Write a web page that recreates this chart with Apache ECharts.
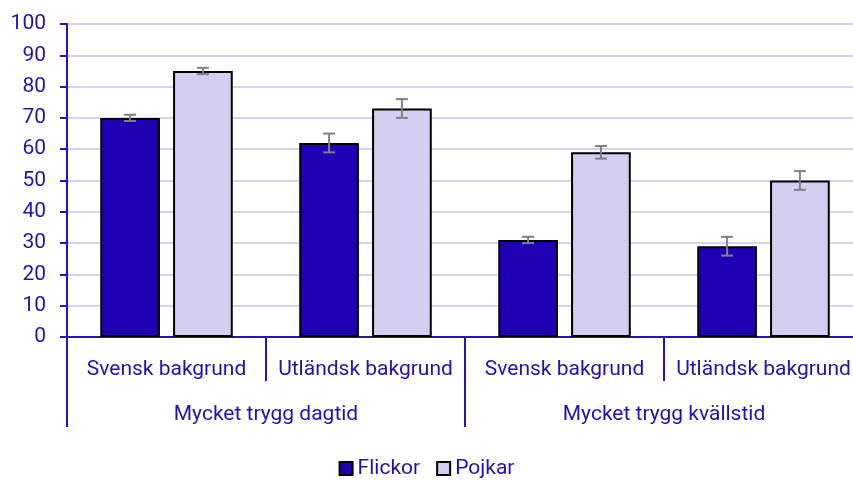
<!DOCTYPE html>
<html>
<head>
<meta charset="utf-8">
<script src="https://cdn.jsdelivr.net/npm/echarts@6/dist/echarts.min.js"></script>
<style>html,body{margin:0;padding:0;background:#fff}#chart{width:853px;height:480px}</style>
</head>
<body>
<div id="chart"></div>
<script>
var subCats = ['Svensk bakgrund', 'Utländsk bakgrund', 'Svensk bakgrund', 'Utländsk bakgrund'];
var mainCats = ['Mycket trygg dagtid', 'Mycket trygg kvällstid'];
var flickor = [70, 62, 31, 29];
var pojkar = [85, 73, 59, 50];
var flickorLow = [69, 59, 30, 26];
var flickorHigh = [71, 65, 32, 32];
var pojkarLow = [84, 70, 57, 47];
var pojkarHigh = [86, 76, 61, 53];

var textCol = '#2311b0';
var axisCol = '#2a10c4';

function errData(low, high) {
  var out = [];
  for (var i = 0; i < low.length; i++) out.push([i, low[i], high[i]]);
  return out;
}

// bar width 30% of band, gap 22% of bar -> centre offset in band units
var barW = 0.30, gap = 0.22;
var off = (barW + barW * gap) / 2;

function errRender(sign) {
  return function (params, api) {
    var band = api.size([1, 0])[0];
    var x = api.coord([api.value(0), 0])[0] + sign * off * band;
    var lo = api.coord([api.value(0), api.value(1)])[1];
    var hi = api.coord([api.value(0), api.value(2)])[1];
    var cap = 6;
    var st = { stroke: '#808080', lineWidth: 2 };
    return {
      type: 'group',
      children: [
        { type: 'line', shape: { x1: x, y1: lo, x2: x, y2: hi }, style: st },
        { type: 'line', shape: { x1: x - cap, y1: lo, x2: x + cap, y2: lo }, style: st },
        { type: 'line', shape: { x1: x - cap, y1: hi, x2: x + cap, y2: hi }, style: st }
      ]
    };
  };
}

var chart = echarts.init(document.getElementById('chart'));
chart.setOption({
  animation: false,
  textStyle: { fontFamily: 'Roboto' },
  grid: { left: 67, width: 796, top: 24, bottom: 143, containLabel: false, outerBoundsMode: 'none' },
  legend: {
    bottom: -4,
    left: 'center',
    icon: 'rect',
    itemWidth: 13,
    itemHeight: 13,
    itemGap: 16,
    textStyle: { color: textCol, fontSize: 21 },
    data: ['Flickor', 'Pojkar']
  },
  xAxis: [
    {
      type: 'category',
      position: 'bottom',
      data: subCats,
      axisLine: { lineStyle: { color: axisCol, width: 2 } },
      axisTick: { show: true, interval: 0, length: 44, lineStyle: { color: axisCol, width: 2 } },
      axisLabel: { color: textCol, fontSize: 21, margin: 22, interval: 0 }
    },
    {
      type: 'category',
      position: 'bottom',
      offset: 0,
      data: mainCats,
      axisLine: { show: false },
      axisTick: { show: true, interval: 0, length: 90, lineStyle: { color: axisCol, width: 2 } },
      axisLabel: { color: textCol, fontSize: 21, margin: 67, interval: 0 }
    }
  ],
  yAxis: {
    type: 'value',
    min: 0,
    max: 100,
    interval: 10,
    axisLine: { show: true, lineStyle: { color: axisCol, width: 2 } },
    axisTick: { show: true, length: 7, lineStyle: { color: axisCol, width: 2 } },
    axisLabel: { color: textCol, fontSize: 21, margin: 21 },
    splitLine: { lineStyle: { color: '#d5d2ef', width: 2 } }
  },
  series: [
    {
      name: 'Flickor',
      type: 'bar',
      data: flickor,
      barWidth: (barW * 100) + '%',
      barGap: (gap * 100) + '%',
      itemStyle: { color: '#2000b5', borderColor: '#000', borderWidth: 2 }
    },
    {
      name: 'Pojkar',
      type: 'bar',
      data: pojkar,
      barWidth: (barW * 100) + '%',
      barGap: (gap * 100) + '%',
      itemStyle: { color: '#d3cef0', borderColor: '#000', borderWidth: 2 }
    },
    {
      type: 'custom',
      renderItem: errRender(-1),
      data: errData(flickorLow, flickorHigh),
      z: 5
    },
    {
      type: 'custom',
      renderItem: errRender(1),
      data: errData(pojkarLow, pojkarHigh),
      z: 5
    }
  ]
});
</script>
</body>
</html>
